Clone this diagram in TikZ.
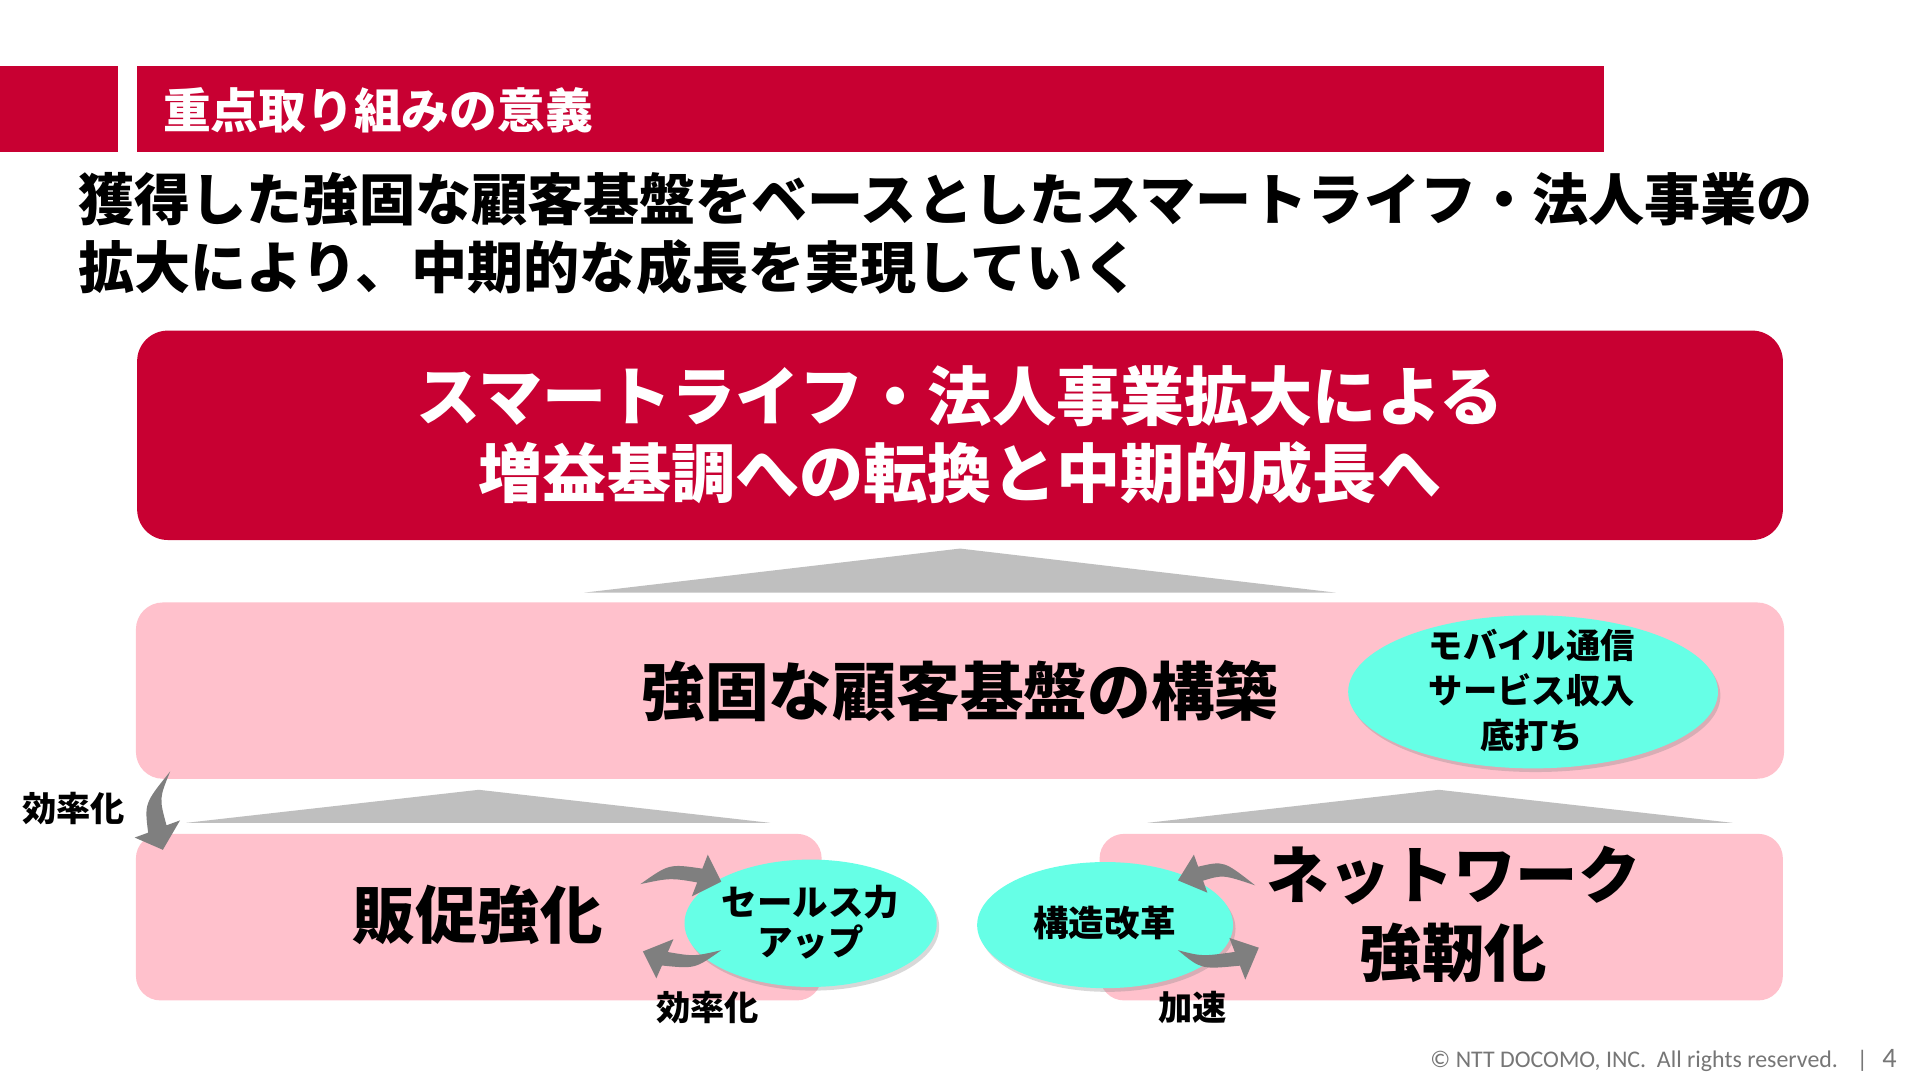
\documentclass[tikz,border=0pt]{standalone}
\usepackage{fontspec}
\newfontfamily\jp{Noto Sans CJK JP}
\newfontfamily\footfont{Carlito}
\usetikzlibrary{shapes.geometric,shadows}
\definecolor{dred}{RGB}{200,0,50}
\definecolor{lpink}{RGB}{255,193,204}
\definecolor{aqua}{RGB}{102,255,230}
\definecolor{tgray}{RGB}{191,191,191}
\definecolor{agray}{RGB}{127,127,127}
\definecolor{fgray}{RGB}{118,118,118}
\newcommand\jfs[1]{\fontsize{#1}{#1}\selectfont}
\begin{document}
\begin{tikzpicture}[x=1pt,y=-1pt,
  redbox/.style={fill=dred, draw=none, inner sep=0pt},
  pinkbox/.style={fill=lpink, draw=none, rounded corners=22pt, inner sep=0pt},
  ellbox/.style={ellipse, fill=aqua, draw=none, inner sep=0pt,
     drop shadow={shadow xshift=2pt, shadow yshift=-3pt, opacity=0.3}},
  jtext/.style={inner sep=0pt},
  arr/.style={fill=agray, draw=none},
  tri/.style={fill=tgray, draw=none}]
\useasboundingbox (0,0) rectangle (1568,882);
\fill[white] (0,0) rectangle (1568,882);

% header
\node[redbox, anchor=north west, minimum width=96pt, minimum height=70pt] (lbar) at (0,54) {};
\node[redbox, anchor=north west, minimum width=1198pt, minimum height=70pt] (hbar) at (112,54) {};
\node[jtext, anchor=west, text=white, font=\jp\bfseries\jfs{39}] (htitle) at (133,90) {重点取り組みの意義};

% title
\node[jtext, anchor=west, font=\jp\bfseries\jfs{45.8}] (t1) at (64,163) {獲得した強固な顧客基盤をベースとしたスマートライフ・法人事業の};
\node[jtext, anchor=west, font=\jp\bfseries\jfs{45.8}] (t2) at (64,218) {拡大により、中期的な成長を実現していく};

% goal box
\node[redbox, rounded corners=25pt, minimum width=1344pt, minimum height=171pt, text=white, align=center,
  font=\jp\bfseries\fontsize{52.4}{63}\selectfont] (goal) at (784,355.5) {スマートライフ・法人事業拡大による\\増益基調への転換と中期的成長へ};

\fill[tri] (477,484) -- (784,448) -- (1091,484) -- cycle;

% base box
\node[pinkbox, minimum width=1346pt, minimum height=144pt, font=\jp\bfseries\jfs{52}] (base) at (784,564) {強固な顧客基盤の構築};
\node[ellbox, minimum width=302pt, minimum height=125pt] (e1) at (1252,565) {};
\node[jtext, align=center, font=\jp\bfseries\fontsize{28}{36.5}\selectfont] (e1t) at (1251,564) {モバイル通信\\サービス収入\\底打ち};

\fill[tri] (152,672) -- (391,645) -- (629,672) -- cycle;
\fill[tri] (937,672) -- (1175,645) -- (1415,672) -- cycle;

% lower boxes
\node[pinkbox, rounded corners=20pt, minimum width=560pt, minimum height=136pt] (sales) at (391,749) {};
\node[jtext, font=\jp\bfseries\jfs{51}] (salest) at (390,747) {販促強化};
\node[pinkbox, rounded corners=20pt, minimum width=558pt, minimum height=136pt] (net) at (1177,749) {};
\node[jtext, align=center, font=\jp\bfseries\fontsize{51}{64}\selectfont] (nett) at (1187,747) {ネットワーク\\強靭化};

\node[ellbox, minimum width=206pt, minimum height=104pt] (e2) at (662,754) {};
\node[jtext, align=center, font=\jp\bfseries\fontsize{29}{33}\selectfont] (e2t) at (662,753) {セールス力\\アップ};
\node[ellbox, minimum width=209pt, minimum height=103pt] (e3) at (902.5,755.5) {};
\node[jtext, font=\jp\bfseries\jfs{29}] (e3t) at (902,754) {構造改革};

% labels
\node[jtext, font=\jp\bfseries\jfs{28}] (l1) at (60,660) {効率化};
\node[jtext, font=\jp\bfseries\jfs{28}] (l2) at (578,823) {効率化};
\node[jtext, font=\jp\bfseries\jfs{28}] (l3) at (974,823) {加速};

% curved arrows
% E: left, down into sales box
\fill[arr] (139,630) .. controls (118,656) .. (121,680) -- (110,684) -- (133,694) -- (147,670) -- (136,674) .. controls (130,652) .. (139,630) -- cycle;
% A: sales -> e2 (upper)
\fill[arr] (523,722) .. controls (546.5,705.4) .. (573.6,709.4) -- (578,698) -- (589,720) -- (565,732) -- (569.4,720.6) .. controls (547.3,716.9) .. (523,722) -- cycle;
% B: e2 -> sales (lower)
\fill[arr] (589,776) .. controls (566.9,781.1) .. (545.4,777.5) -- (550,767) -- (525,777) -- (536,799) -- (540.6,788.5) .. controls (567.7,791.2) .. (589,776) -- cycle;
% C: net -> e3 (upper)
\fill[arr] (1025,723) .. controls (999.4,702.9) .. (978.5,707.8) -- (975,698) -- (962,719) -- (986,729) -- (982.5,719.2) .. controls (998.8,714.3) .. (1025,723) -- cycle;
% D: e3 -> net (lower)
\fill[arr] (962,776) .. controls (981.7,781.1) .. (1008.4,777.4) -- (1004,766) -- (1028,774) -- (1017,800) -- (1012.6,788.6) .. controls (981,791.7) .. (962,776) -- cycle;

% footer
\node[anchor=base west, inner sep=0pt, text=fgray, font=\footfont\fontsize{19.5}{20}\selectfont] (copy) at (1168,871.5) {© NTT DOCOMO, INC.\ \ All rights reserved.};
\node[anchor=base, inner sep=0pt, text=fgray, font=\footfont\fontsize{19.5}{20}\selectfont] (sep) at (1521,871.5) {|};
\node[anchor=base west, inner sep=0pt, text=fgray, font=\footfont\fontsize{23}{24}\selectfont] (pg) at (1537,871.5) {4};
\end{tikzpicture}
\end{document}
